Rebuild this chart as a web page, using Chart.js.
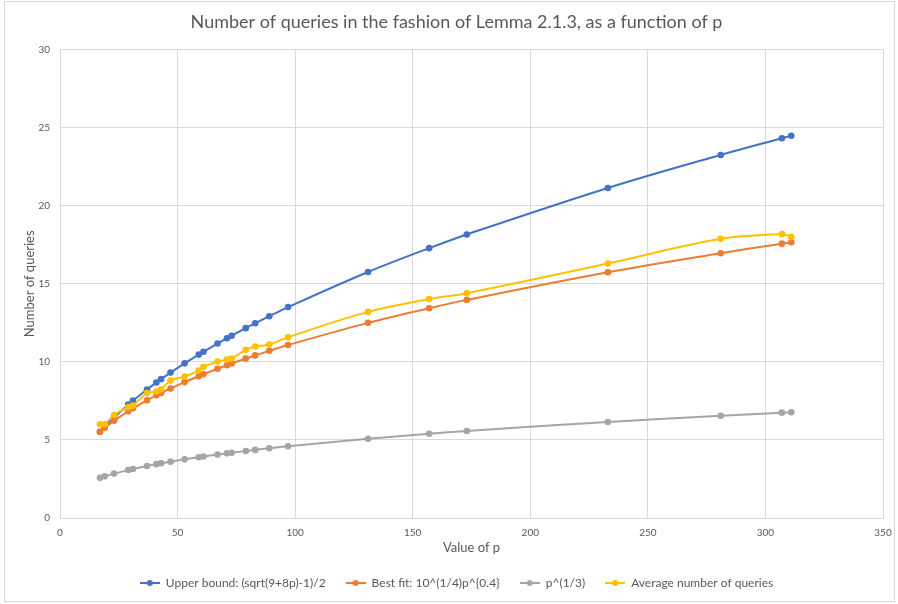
<!DOCTYPE html>
<html><head><meta charset="utf-8">
<script src="https://cdn.jsdelivr.net/npm/chart.js@4/dist/chart.umd.min.js"></script>
<style>
html,body{margin:0;padding:0;background:#fff;}
#wrap{position:relative;width:898px;height:604px;}
#frame{position:absolute;left:4px;top:1px;width:891px;height:601px;border:1px solid #d9d9d9;box-sizing:border-box;pointer-events:none;}
canvas{position:absolute;left:0;top:0;}
</style></head><body>
<div id="wrap"><canvas id="c" width="898" height="604"></canvas><div id="frame"></div></div>
<script>
const pValues = [17,19,23,29,31,37,41,43,47,53,59,61,67,71,73,79,83,89,97,131,157,173,233,281,307,311];
const upperBound = [5.521,5.844,6.446,7.262,7.516,8.232,8.679,8.894,9.311,9.904,10.466,10.647,11.173,11.510,11.676,12.159,12.471,12.926,13.509,15.756,17.283,18.161,21.139,23.254,24.324,24.485];
const bestFit = [5.523,5.774,6.233,6.839,7.024,7.538,7.854,8.005,8.295,8.704,9.085,9.207,9.559,9.784,9.893,10.210,10.414,10.709,11.084,12.499,13.438,13.970,15.739,16.961,17.572,17.664];
const cubeRoot = [2.571,2.668,2.844,3.072,3.141,3.332,3.448,3.503,3.609,3.756,3.893,3.936,4.062,4.141,4.179,4.291,4.362,4.465,4.595,5.079,5.394,5.572,6.153,6.550,6.746,6.775];
const avgQueries = [6.0,6.0,6.6,7.1,7.2,8.0,8.1,8.25,8.8,9.06,9.44,9.68,10.02,10.15,10.21,10.77,10.98,11.11,11.58,13.2,14.02,14.4,16.3,17.88,18.18,18.01];
const seriesNames = ['Upper bound: (sqrt(9+8p)-1)/2','Best fit: 10^(1/4)p^{0.4}','p^(1/3)','Average number of queries'];
const seriesColors = ['#4472C4','#ED7D31','#A5A5A5','#FFC000'];
const xTickRange = {min:0,max:350,step:50};
const yTickRange = {min:0,max:30,step:5};
const titleText = 'Number of queries in the fashion of Lemma 2.1.3, as a function of p';
const xTitle = 'Value of p';
const yTitle = 'Number of queries';

const FONT = 'Lato, "Open Sans", sans-serif';
const TXT = '#595959';
const GRID = '#d9d9d9';

function marker(color){
  const c = document.createElement('canvas');
  c.width = 20; c.height = 8;
  const g = c.getContext('2d');
  g.strokeStyle = color; g.lineWidth = 2;
  g.beginPath(); g.moveTo(0,4); g.lineTo(20,4); g.stroke();
  g.fillStyle = color; g.beginPath(); g.arc(10,4,3,0,Math.PI*2); g.fill();
  return c;
}
const markers = seriesColors.map(marker);
const allSeries = [upperBound,bestFit,cubeRoot,avgQueries];
const drawOrder = [3,2,1,0];

const datasets = allSeries.map((vals,i)=>({
  label: seriesNames[i],
  data: pValues.map((p,j)=>({x:p,y:vals[j]})),
  borderColor: seriesColors[i],
  backgroundColor: seriesColors[i],
  pointBackgroundColor: seriesColors[i],
  pointBorderColor: seriesColors[i],
  pointRadius: 3.3,
  pointBorderWidth: 0,
  borderWidth: 2,
  tension: 0.35,
  fill: false,
  order: drawOrder[i]
}));

new Chart(document.getElementById('c'), {
  type: 'line',
  data: { datasets },
  options: {
    responsive: false,
    animation: false,
    layout: { padding: { left: 30, right: 15, top: 0, bottom: 5 } },
    plugins: {
      title: { display: true, text: titleText, color: TXT,
        font: { family: FONT, size: 18, weight: 'normal' },
        padding: { top: 11, bottom: 17 } },
      legend: { position: 'bottom',
        labels: { usePointStyle: true, pointStyleWidth: 20, boxHeight: 8,
          color: TXT, padding: 20, font: { family: FONT, size: 12 },
          generateLabels(chart){
            const items = Chart.defaults.plugins.legend.labels.generateLabels(chart);
            items.forEach(it => { it.pointStyle = markers[it.datasetIndex]; });
            items.sort((a,b)=>a.datasetIndex-b.datasetIndex);
            return items;
          } } },
      tooltip: { enabled: false }
    },
    scales: {
      x: { type: 'linear', min: xTickRange.min, max: xTickRange.max,
        ticks: { stepSize: xTickRange.step, color: TXT, padding: 9, font: { family: FONT, size: 10 } },
        grid: { color: GRID, drawTicks: false },
        border: { color: GRID },
        title: { display: true, text: xTitle, color: TXT, font: { family: FONT, size: 13 }, padding: { top: 0, bottom: 1 } },
        afterFit(s){ s.height = 39; s.paddingRight = 0; s.paddingLeft = 0; } },
      y: { min: yTickRange.min, max: yTickRange.max,
        ticks: { stepSize: yTickRange.step, color: TXT, padding: 10, font: { family: FONT, size: 10 } },
        grid: { color: GRID, drawTicks: false },
        border: { color: GRID },
        title: { display: true, text: yTitle, color: TXT, font: { family: FONT, size: 13 }, padding: { top: -8, bottom: 0 } },
        afterFit(s){ s.width = 30; } }
    }
  }
});
</script>
</body></html>
